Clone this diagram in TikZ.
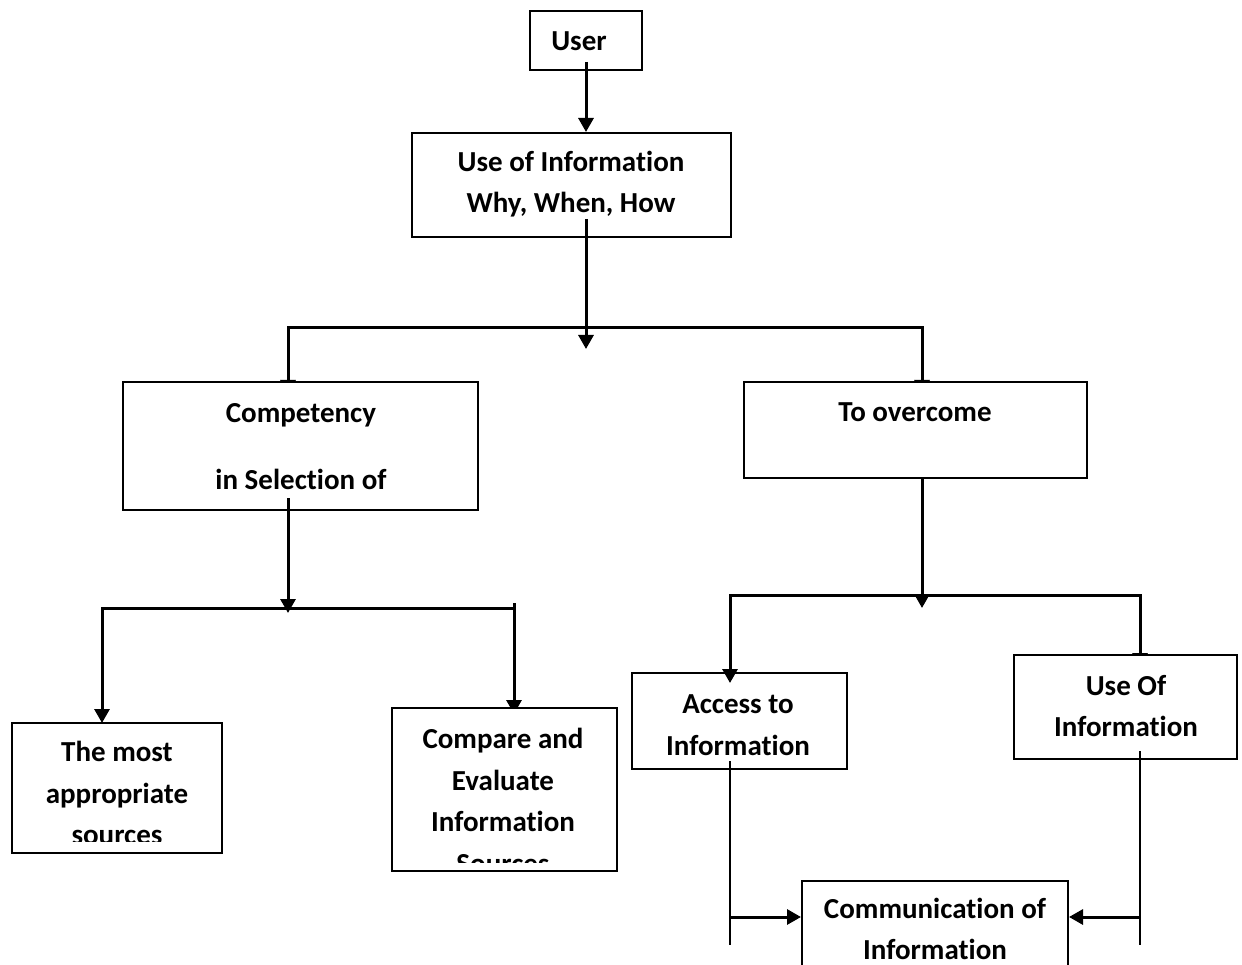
\documentclass[tikz,border=0pt]{standalone}
\usepackage{fontspec}
\setmainfont{Carlito}[Ligatures={NoCommon}]
\usetikzlibrary{arrows.meta}
\begin{document}
\begin{tikzpicture}[x=1pt,y=-1pt,
  box/.style={draw, line width=2pt, fill=white, inner sep=0pt},
  txt/.style={font=\fontsize{29}{41.5}\selectfont\bfseries, align=center, inner sep=0pt},
  arr/.style={line width=3pt, -{Triangle[length=14pt,width=15pt]}},
  ln/.style={line width=3pt},
  thinln/.style={line width=1.6pt}]
\useasboundingbox (0,0) rectangle (1242,965);
\clip (0,0) rectangle (1242,965);
% junction coordinates
\coordinate (h1) at (586,328);
\coordinate (h1t) at (586,349);
\coordinate (bL) at (288,328);
\coordinate (bLt) at (288,394);
\coordinate (bR) at (922,328);
\coordinate (bRt) at (922,394);
\coordinate (c0) at (288,608);
\coordinate (c0t) at (288,613);
\coordinate (cL) at (102,608);
\coordinate (cLt) at (102,723);
\coordinate (cR) at (514,608);
\coordinate (cRs) at (514,603);
\coordinate (cRt) at (514,714);
\coordinate (d0) at (922,595);
\coordinate (d0t) at (922,608);
\coordinate (dL) at (730,595);
\coordinate (dLt) at (730,683);
\coordinate (dR) at (1140,595);
\coordinate (dRt) at (1140,667);
\coordinate (eL) at (730,945);
\coordinate (eR) at (1140,945);
\coordinate (eLm) at (730,917);
\coordinate (eRm) at (1140,917);
% arrows whose heads are hidden behind boxes
\draw[arr] (h1) -- (bL) -- (bLt);
\draw[arr] (h1) -- (bR) -- (bRt);
\draw[arr] (cRs) -- (cRt);
\draw[arr] (d0) -- (dR) -- (dRt);
% boxes
\node[box, minimum width=112pt, minimum height=59pt] (user) at (586,40.5) {};
\node[box, minimum width=319pt, minimum height=104pt] (uoi) at (571.5,185) {};
\node[box, minimum width=355pt, minimum height=128pt] (comp) at (300.5,446) {};
\node[box, minimum width=343pt, minimum height=96pt] (over) at (915.5,430) {};
\node[box, minimum width=210pt, minimum height=130pt] (most) at (117,788) {};
\node[box, minimum width=225pt, minimum height=163pt] (cmpr) at (504.5,789.5) {};
\node[box, minimum width=215pt, minimum height=96pt] (acc) at (739.5,721) {};
\node[box, minimum width=223pt, minimum height=104pt] (useof) at (1125.5,707) {};
\node[box, minimum width=266pt, minimum height=130pt] (comm) at (935,946) {};
% texts
\node[txt] (tuser) at (579,41) {User};
\node[txt] (tuoi) at (571,184) {Use of Information\\Why, When, How};
\node[txt] (tcomp) at (301,446.5) {Competency\\[25.5pt]in Selection of};
\node[txt] (tover) at (915,412) {To overcome};
\begin{scope}
\clip (12,723) rectangle (222,841);
\node[txt] (tmost) at (117,793) {The most\\appropriate\\sources};
\end{scope}
\begin{scope}
\clip (392,708) rectangle (617,862);
\node[txt] (tcmpr) at (503,801) {Compare and\\Evaluate\\Information\\Sources};
\end{scope}
\node[txt] (tacc) at (738,725) {Access to\\Information};
\node[txt] (tuse) at (1126,706) {Use Of\\Information};
\node[txt] (tcomm) at (935,929) {Communication of\\Information};
% visible connectors
\draw[arr] ([yshift=9pt]user.south) -- (user.south |- uoi.north);
\draw[arr] ([yshift=19pt]uoi.south -| h1) -- (h1t);
\draw[arr] ([yshift=13pt]comp.south -| c0) -- (c0t);
\draw[arr] (c0) -- (cL) -- (cLt);
\draw[ln] (c0) -- (cR);
\draw[arr] (over.south -| d0) -- (d0t);
\draw[arr] (d0) -- (dL) -- (dLt);
\draw[thinln] ([yshift=9pt]acc.south -| eL) -- (eL);
\draw[thinln] ([yshift=9pt]useof.south -| eR) -- (eR);
\draw[arr] (eLm) -- (eLm -| comm.west);
\draw[arr] (eRm) -- (eRm -| comm.east);
\end{tikzpicture}
\end{document}
